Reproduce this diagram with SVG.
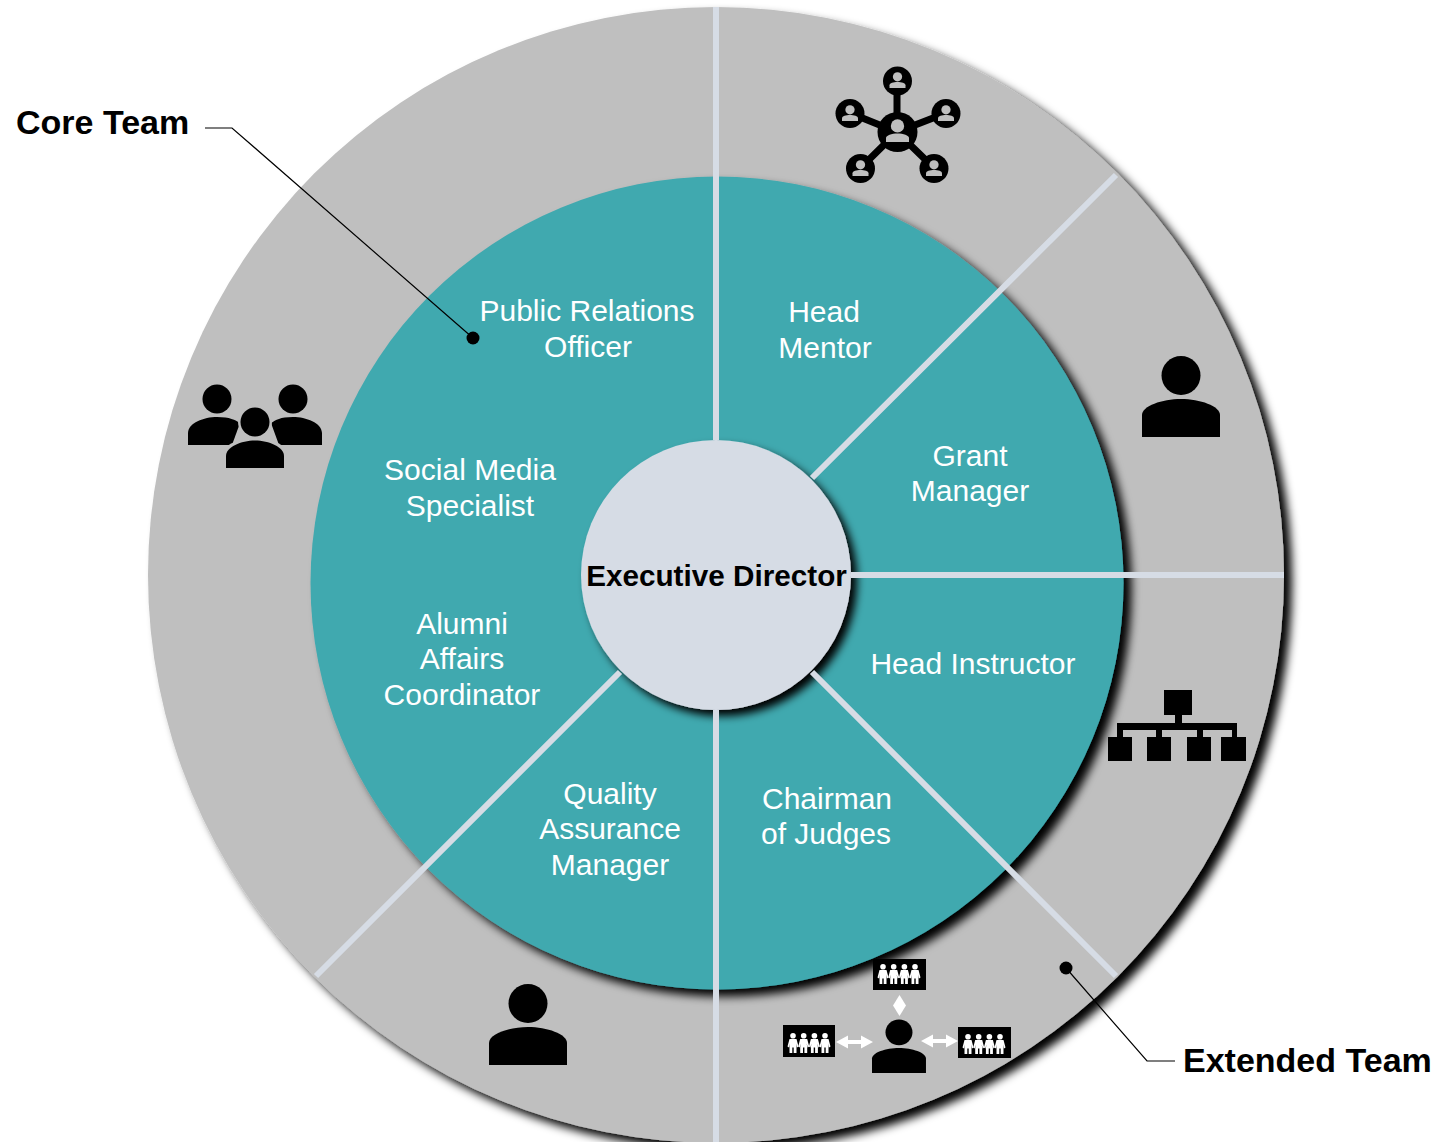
<svg xmlns="http://www.w3.org/2000/svg" xmlns:xlink="http://www.w3.org/1999/xlink" width="1440" height="1142" viewBox="0 0 1440 1142">
<style>
.t{font-family:"Liberation Sans",Arial,sans-serif;font-size:30px;fill:#fff;text-anchor:middle}
.b{font-family:"Liberation Sans",Arial,sans-serif;font-weight:bold;fill:#000}
.div{stroke:#D6DCE5;stroke-width:6;fill:none}
.lead{stroke:#000;stroke-width:1.2;fill:none}
.ic{fill:#000}
</style>
<defs>
<filter id="sh" x="-10%" y="-10%" width="125%" height="125%"><feDropShadow dx="8" dy="7" stdDeviation="5" flood-color="#000" flood-opacity="1"/></filter>
<filter id="shc" x="-15%" y="-15%" width="135%" height="135%"><feDropShadow dx="6" dy="6" stdDeviation="4.500" flood-color="#000" flood-opacity="1"/></filter>
<g id="person"><circle cx="39" cy="19.500" r="19.500"/><path d="M0 81V59C0 50 20 43 39 43S78 50 78 59V81Z"/></g>
<g id="netp" fill="#BFBFBF"><circle cx="10" cy="6" r="5.800"/><path d="M0 20V16.500C0 14 5 12.500 10 12.500S20 14 20 16.500V20Z"/></g>
<g id="fig" fill="#fff"><circle cx="0" cy="2.800" r="2.800"/><path d="M-3.500 6H3.500L5.500 13.500L4 14.500L3 10.500L3.500 14V20H.7V14.500H-.7V20H-3.500V14L-3 10.500L-4 14.500L-5.500 13.500Z"/></g>
<g id="crowd"><use xlink:href="#fig" x="10"/><use xlink:href="#fig" x="20.700"/><use xlink:href="#fig" x="31.400"/><use xlink:href="#fig" x="42"/></g>
</defs>
<rect width="1440" height="1142" fill="#fff"/>
<g id="outer-ring"><circle cx="716" cy="575" r="568" fill="#BFBFBF" filter="url(#sh)"/></g>
<g id="inner-ring"><circle cx="717" cy="583" r="406.500" fill="#41A9AF" filter="url(#sh)"/></g>
<g id="center"><circle cx="716" cy="575" r="135" fill="#D6DCE5" filter="url(#shc)"/><text class="b" x="716.500" y="585.500" font-size="29.700" text-anchor="middle">Executive Director</text></g>
<g id="connectors">
<path class="div" d="M716 7V440M716 710V1142M851 575H1284M812 478L1116 175M812 672L1116 976M620 672L316 976"/>
<path class="lead" d="M205 128H232L473 338"/><circle cx="473" cy="338" r="6.500"/>
<path class="lead" d="M1066 968L1147 1061H1175"/><circle cx="1066" cy="968" r="6.500"/>
</g>
<g id="labels">
<text class="t" x="587" y="321">Public Relations</text><text class="t" x="588" y="357">Officer</text>
<text class="t" x="824" y="322">Head</text><text class="t" x="825" y="358">Mentor</text>
<text class="t" x="970" y="466">Grant</text><text class="t" x="970" y="501">Manager</text>
<text class="t" x="973" y="674">Head Instructor</text>
<text class="t" x="827" y="809">Chairman</text><text class="t" x="826" y="844">of Judges</text>
<text class="t" x="610" y="804">Quality</text><text class="t" x="610" y="839">Assurance</text><text class="t" x="610" y="875">Manager</text>
<text class="t" x="462" y="634">Alumni</text><text class="t" x="462" y="669">Affairs</text><text class="t" x="462" y="705">Coordinator</text>
<text class="t" x="470" y="480">Social Media</text><text class="t" x="470" y="516">Specialist</text>
<text class="b" x="16" y="134" font-size="34">Core Team</text>
<text class="b" x="1183" y="1072" font-size="34">Extended Team</text>
</g>
<g id="icon-core" class="ic">
<circle cx="217" cy="399" r="14.500"/><path d="M188 445V433C188 423 204 417 217 417S235 420 240 423L232 445Z"/>
<circle cx="293" cy="399" r="14.500"/><path d="M322 445V433C322 423 306 417 293 417S276 420 271 423L279 445Z"/>
<circle cx="255" cy="422" r="17" fill="#BFBFBF"/><circle cx="255" cy="422" r="14.500"/>
<path d="M223 471V455C223 444 240 438 255 438S287 444 287 455V471Z" fill="#BFBFBF"/>
<path d="M226 468V456C226 447 241 440.500 255 440.500S284 447 284 456V468Z"/>
</g>
<g id="icon-network">
<path d="M897 132V81M897 132L850 113M897 132L946 113M897 132L860.500 168M897 132L934 168" stroke="#000" stroke-width="7" fill="none"/>
<circle cx="897.500" cy="132" r="20"/><circle cx="897.500" cy="81" r="14.500"/><circle cx="850" cy="113.500" r="14.500"/><circle cx="946" cy="113.500" r="14.500"/><circle cx="860.500" cy="168.500" r="14.500"/><circle cx="934" cy="168.500" r="14.500"/>
<use xlink:href="#netp" transform="translate(886 119) scale(1.150 1.150)"/>
<use xlink:href="#netp" transform="translate(889.500 72) scale(.8)"/>
<use xlink:href="#netp" transform="translate(842 105) scale(.8)"/>
<use xlink:href="#netp" transform="translate(938 105) scale(.8)"/>
<use xlink:href="#netp" transform="translate(852.500 160) scale(.8)"/>
<use xlink:href="#netp" transform="translate(926 160) scale(.8)"/>
</g>
<g id="icon-person-right"><use xlink:href="#person" x="1142" y="356"/></g>
<g id="icon-person-left"><use xlink:href="#person" x="489" y="984"/></g>
<g id="icon-hierarchy" class="ic">
<rect x="1164" y="690" width="28" height="25"/><rect x="1175" y="715" width="7" height="10"/>
<path d="M1117 737V723H1237V737H1232V730H1203V737H1197V730H1162V737H1156V730H1123V737Z"/>
<rect x="1108" y="737" width="24" height="24"/><rect x="1147" y="737" width="24" height="24"/><rect x="1187" y="737" width="24" height="24"/><rect x="1221" y="737" width="25" height="24"/>
</g>
<g id="icon-extended">
<use xlink:href="#person" transform="translate(872 1019.500) scale(.692 .66)"/>
<rect x="873" y="959" width="53" height="31"/><use xlink:href="#crowd" x="873" y="964"/>
<rect x="783" y="1025" width="52" height="32"/><use xlink:href="#crowd" x="783" y="1033"/>
<rect x="958" y="1027" width="53" height="31"/><use xlink:href="#crowd" x="958" y="1034"/>
<path d="M899.500 995L906 1005.500L899.500 1016L893 1005.500Z" fill="#fff"/>
<path d="M836 1042L848 1035.500V1040H861V1035.500L873 1042L861 1048.500V1044H848V1048.500Z" fill="#fff"/>
<path d="M921 1041L933 1034.500V1039H946V1034.500L958 1041L946 1047.500V1043H933V1047.500Z" fill="#fff"/>
</g>
</svg>
